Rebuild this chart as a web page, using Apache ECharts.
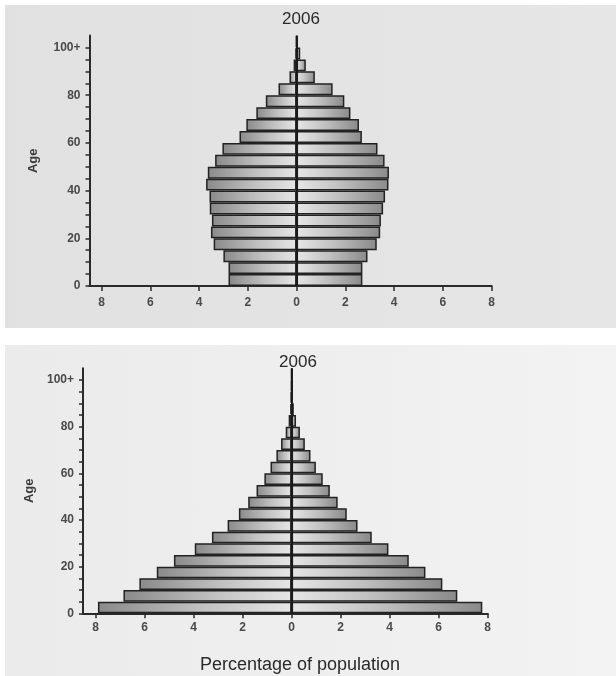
<!DOCTYPE html>
<html>
<head>
<meta charset="utf-8">
<script src="https://cdn.jsdelivr.net/npm/echarts@6/dist/echarts.min.js"></script>
<style>
html,body{margin:0;padding:0;background:#ffffff;}
#wrap{position:relative;width:616px;height:676px;overflow:hidden;}
.panel{position:absolute;}
#p1{left:5px;top:5px;width:611px;height:323px;background:linear-gradient(90deg,#e1e1e2 0%,#e4e4e5 60%,#e6e6e7 100%);}
#p2{left:5px;top:345px;width:611px;height:331px;background:linear-gradient(90deg,#ebebeb 0%,#efefef 60%,#f3f3f3 100%);}
#c{position:absolute;left:0;top:0;width:616px;height:676px;}
</style>
</head>
<body>
<div id="wrap">
  <div class="panel" id="p1"></div>
  <div class="panel" id="p2"></div>
  <div id="c"></div>
</div>
<script>
// Age groups (5-year bands)
const ageGroups = ['0-4','5-9','10-14','15-19','20-24','25-29','30-34','35-39','40-44','45-49',
  '50-54','55-59','60-64','65-69','70-74','75-79','80-84','85-89','90-94','95-99','100+'];

// Top pyramid (2006) - percentage of population, left and right halves
const topLeft  = [2.79,2.79,3.00,3.40,3.51,3.47,3.56,3.57,3.71,3.64,3.34,3.04,2.34,2.06,1.65,1.26,0.74,0.29,0.12,0.05,0.02];
const topRight = [2.70,2.70,2.91,3.29,3.43,3.46,3.55,3.63,3.77,3.79,3.61,3.32,2.68,2.56,2.21,1.96,1.48,0.75,0.38,0.15,0.03];

// Bottom pyramid (2006)
const bottomLeft  = [7.90,6.86,6.21,5.50,4.80,3.95,3.25,2.61,2.15,1.77,1.43,1.11,0.86,0.62,0.43,0.24,0.12,0.06,0.04,0.02,0.01];
const bottomRight = [7.78,6.76,6.15,5.46,4.78,3.95,3.27,2.69,2.25,1.88,1.56,1.27,0.99,0.77,0.54,0.34,0.18,0.09,0.04,0.02,0.01];

// Tick labels
const ageTickLabels = ['0','20','40','60','80','100+'];
const panelTitles = ['2006','2006'];
const xAxisTitle = 'Percentage of population';
const yAxisTitle = 'Age';

const chart = echarts.init(document.getElementById('c'), null, {renderer:'canvas'});

const FONT = 'Liberation Sans, Arial, sans-serif';
const AXIS_COLOR = '#2a2a2a';
const LABEL_COLOR = '#4a4a4a';

function gradLeft(){
  return new echarts.graphic.LinearGradient(0,0,1,0,[
    {offset:0,color:'#8a8a8a'},{offset:0.55,color:'#c2c2c2'},{offset:1,color:'#e6e6e6'}]);
}
function gradRight(){
  return new echarts.graphic.LinearGradient(0,0,1,0,[
    {offset:0,color:'#e6e6e6'},{offset:0.45,color:'#c2c2c2'},{offset:1,color:'#8a8a8a'}]);
}

// panel geometry (pixels)
const panels = [
  {axisLeft:89.5, barLeft:101.5, right:124.4, top:35.6, bottom:390, left:topLeft, rightData:topRight,
   labelMarginX:11, nameGap:50},
  {axisLeft:83, barLeft:95.5, right:128.3, top:368.3, bottom:62.7, left:bottomLeft, rightData:bottomRight,
   labelMarginX:8, nameGap:44}
];

const grid = [], xAxis = [], yAxis = [], series = [];
panels.forEach((p, i) => {
  const ga = i*2, gb = i*2+1;
  grid.push({left:p.axisLeft, right:p.right, top:p.top, bottom:p.bottom, containLabel:false});
  grid.push({left:p.barLeft, right:p.right, top:p.top, bottom:p.bottom, containLabel:false});
  // x axis line spanning from the age axis
  xAxis.push({gridIndex:ga, type:'value', min:0, max:1,
    axisLine:{show:true, onZero:false, lineStyle:{color:AXIS_COLOR, width:2}},
    axisTick:{show:false}, axisLabel:{show:false}, splitLine:{show:false}});
  // percentage axis with ticks and labels
  xAxis.push({gridIndex:gb, type:'value', min:-8, max:8, interval:2,
    axisLine:{show:false, onZero:false},
    axisTick:{show:true, length:5, lineStyle:{color:AXIS_COLOR, width:1.5}},
    axisLabel:{show:true, margin:p.labelMarginX, color:LABEL_COLOR, fontFamily:FONT, fontSize:12,
      fontWeight:'bold', formatter:v => String(Math.abs(v))},
    splitLine:{show:false}});
  yAxis.push({gridIndex:ga, type:'value', min:0, max:105, interval:5,
    name:yAxisTitle, nameLocation:'middle', nameGap:p.nameGap, nameRotate:90,
    nameTextStyle:{color:'#3a3a3a', fontFamily:FONT, fontSize:13, fontWeight:'bold'},
    axisLine:{show:true, onZero:false, lineStyle:{color:AXIS_COLOR, width:2}},
    axisTick:{show:true, length:4, lineStyle:{color:AXIS_COLOR, width:1.5}},
    axisLabel:{show:true, margin:9, color:LABEL_COLOR, fontFamily:FONT, fontSize:12,
      fontWeight:'bold', showMaxLabel:false,
      formatter:v => (v % 20 === 0 && v <= 100) ? ageTickLabels[v/20] : ''},
    splitLine:{show:false}});
  yAxis.push({gridIndex:gb, type:'category', data:ageGroups, show:false, boundaryGap:true});

  series.push({type:'bar', name:'left'+i, xAxisIndex:gb, yAxisIndex:gb, stack:'s'+i,
    barCategoryGap:'0%', data:p.left.map(v => -v), silent:true,
    itemStyle:{color:gradLeft(), borderColor:'#222222', borderWidth:1.5}});
  series.push({type:'bar', name:'right'+i, xAxisIndex:gb, yAxisIndex:gb, stack:'s'+i,
    barCategoryGap:'0%', data:p.rightData, silent:true,
    itemStyle:{color:gradRight(), borderColor:'#222222', borderWidth:1.5},
    markLine:{silent:true, symbol:['none','none'], label:{show:false},
      lineStyle:{color:'#1a1a1a', width:2, type:'solid'}, data:[{xAxis:0}], animation:false}});
});

const option = {
  backgroundColor:'transparent',
  animation:false,
  title:[
    {text:panelTitles[0], left:296, top:6, textAlign:'center',
      textStyle:{fontFamily:FONT, fontSize:17, fontWeight:'normal', color:'#2a2a2a'}},
    {text:panelTitles[1], left:293, top:349, textAlign:'center',
      textStyle:{fontFamily:FONT, fontSize:17, fontWeight:'normal', color:'#2a2a2a'}},
    {text:xAxisTitle, left:295, top:651, textAlign:'center',
      textStyle:{fontFamily:FONT, fontSize:18, fontWeight:'normal', color:'#2a2a2a'}}
  ],
  grid, xAxis, yAxis, series
};
chart.setOption(option);
</script>
</body>
</html>
